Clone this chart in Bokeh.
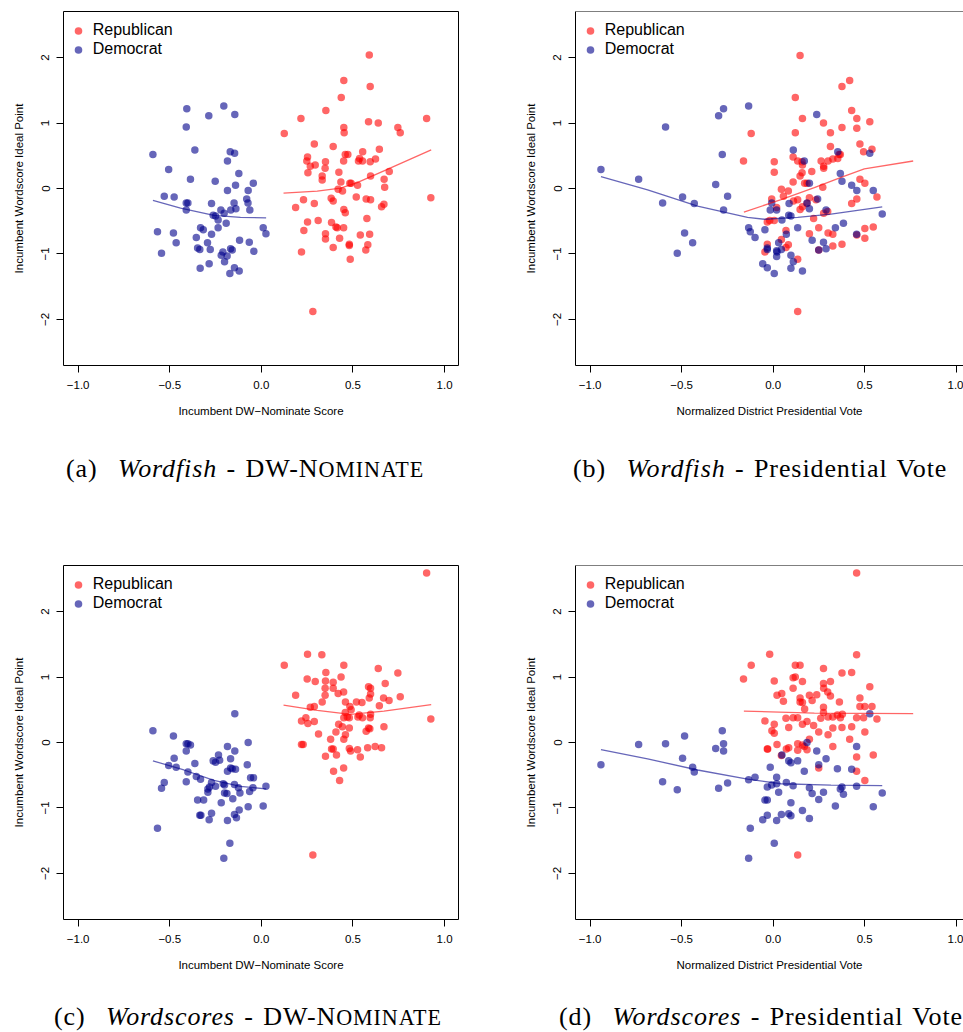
import math
from bokeh.plotting import figure
from bokeh.models import FixedTicker, Span, Div, Legend
from bokeh.layouts import column, row
from bokeh.embed import file_html
from bokeh.resources import INLINE

# ---------------- data ----------------
# Panel (a): Wordfish vs DW-Nominate
a_rep_x = [0.589, 0.450, 0.594, 0.436, 0.352, 0.216, 0.585, 0.638, 0.902, 0.450, 0.745, 0.758, 0.452, 0.125,
           0.289, 0.392, 0.644, 0.553, 0.458, 0.472, 0.252, 0.248, 0.350, 0.449, 0.536, 0.530, 0.552, 0.594,
           0.623, 0.294, 0.267, 0.348, 0.423, 0.254, 0.698, 0.332, 0.332, 0.596, 0.670, 0.434, 0.483, 0.490,
           0.525, 0.673, 0.419, 0.443, 0.518, 0.381, 0.392, 0.572, 0.596, 0.230, 0.289, 0.187, 0.669, 0.656,
           0.450, 0.458, 0.576, 0.252, 0.310, 0.383, 0.407, 0.414, 0.449, 0.232, 0.350, 0.540, 0.591, 0.350,
           0.427, 0.480, 0.480, 0.581, 0.392, 0.570, 0.219, 0.485, 0.281, 0.925]
a_rep_y = [2.04, 1.65, 1.56, 1.39, 1.19, 1.07, 1.02, 1.00, 1.07, 0.93, 0.93, 0.85, 0.85, 0.84,
           0.68, 0.64, 0.60, 0.56, 0.52, 0.52, 0.48, 0.42, 0.41, 0.42, 0.46, 0.42, 0.42, 0.41,
           0.45, 0.36, 0.34, 0.31, 0.25, 0.24, 0.26, 0.19, 0.13, 0.19, 0.14, 0.10, 0.08, 0.08,
           0.05, 0.02, -0.01, -0.04, -0.13, -0.15, -0.19, -0.16, -0.17, -0.17, -0.23, -0.29, -0.24, -0.28,
           -0.32, -0.37, -0.46, -0.51, -0.49, -0.52, -0.59, -0.60, -0.60, -0.64, -0.69, -0.71, -0.70, -0.77,
           -0.76, -0.85, -0.87, -0.86, -0.90, -0.94, -0.97, -1.08, -1.88, -0.14]
a_dem_x = [-0.407, -0.205, -0.287, -0.145, -0.410, -0.592, -0.363, -0.170, -0.146, -0.185, -0.506, -0.123,
           -0.387, -0.252, -0.044, -0.141, -0.185, -0.072, -0.530, -0.476, -0.080, -0.073, -0.410, -0.401,
           -0.272, -0.149, -0.410, -0.221, -0.167, -0.139, -0.063, -0.203, -0.263, -0.250, -0.236, -0.192,
           -0.236, -0.332, -0.317, -0.567, -0.480, 0.010, 0.025, -0.272, -0.465, -0.355, -0.294, -0.119,
           -0.066, -0.348, -0.336, -0.279, -0.168, -0.159, -0.210, -0.219, -0.187, -0.041, -0.545, -0.201,
           -0.285, -0.334, -0.147, -0.121, -0.172]
a_dem_y = [1.22, 1.26, 1.11, 1.13, 0.94, 0.52, 0.59, 0.56, 0.54, 0.42, 0.29, 0.23,
           0.14, 0.11, 0.08, 0.05, -0.03, -0.03, -0.12, -0.13, -0.16, -0.22, -0.22, -0.22,
           -0.23, -0.22, -0.33, -0.33, -0.33, -0.31, -0.33, -0.38, -0.41, -0.42, -0.48, -0.53,
           -0.60, -0.60, -0.63, -0.66, -0.68, -0.60, -0.69, -0.70, -0.83, -0.75, -0.83, -0.79,
           -0.82, -0.91, -0.93, -0.93, -0.92, -0.94, -0.97, -1.02, -1.03, -0.96, -0.99, -1.12,
           -1.15, -1.22, -1.21, -1.26, -1.30]
a_rep_fit_x = [0.121, 0.305, 0.432, 0.523, 0.669, 0.927]
a_rep_fit_y = [-0.07, -0.04, 0.005, 0.09, 0.27, 0.59]
a_dem_fit_x = [-0.592, -0.441, -0.259, -0.114, 0.026]
a_dem_fit_y = [-0.18, -0.30, -0.41, -0.44, -0.45]

# Panel (b): Wordfish vs presidential vote
b_rep_x = [0.147, 0.418, 0.376, 0.121, 0.429, 0.160, 0.457, 0.528, 0.275, 0.376, 0.457, 0.121, 0.313, -0.120,
           0.474, 0.313, 0.540, 0.494, 0.360, 0.367, 0.109, -0.162, 0.134, 0.158, 0.262, 0.300, 0.326, 0.353,
           0.006, 0.160, 0.276, 0.276, 0.006, 0.211, 0.158, 0.147, 0.474, 0.109, 0.172, 0.185, 0.501, 0.271,
           0.045, 0.083, 0.567, 0.056, -0.008, 0.134, 0.198, 0.234, 0.457, 0.111, 0.185, 0.429, 0.019, 0.147,
           0.160, 0.276, 0.298, 0.221, -0.032, -0.019, 0.006, 0.070, 0.249, 0.300, 0.198, 0.326, 0.501, 0.547,
           0.457, 0.045, 0.501, -0.032, 0.083, 0.376, 0.326, 0.070, 0.249, -0.045, 0.134, 0.134]
b_rep_y = [2.03, 1.65, 1.56, 1.39, 1.19, 1.07, 1.07, 1.02, 1.00, 0.93, 0.92, 0.85, 0.85, 0.84,
           0.68, 0.64, 0.60, 0.56, 0.52, 0.52, 0.48, 0.42, 0.42, 0.41, 0.42, 0.42, 0.45, 0.46,
           0.41, 0.36, 0.34, 0.31, 0.25, 0.26, 0.24, 0.19, 0.14, 0.10, 0.08, 0.08, 0.08, 0.02,
           -0.01, -0.04, -0.13, -0.12, -0.16, -0.17, -0.14, -0.17, -0.16, -0.19, -0.23, -0.23, -0.29, -0.32,
           -0.28, -0.38, -0.35, -0.46, -0.51, -0.49, -0.49, -0.64, -0.60, -0.68, -0.69, -0.70, -0.61, -0.59,
           -0.71, -0.78, -0.76, -0.85, -0.86, -0.85, -0.88, -0.90, -0.94, -0.97, -1.08, -1.88]
b_dem_x = [-0.941, -0.735, -0.604, -0.495, -0.431, -0.588, -0.298, -0.271, -0.134, -0.278, -0.314, -0.249,
           -0.271, -0.484, -0.440, -0.524, 0.238, 0.110, 0.170, 0.353, 0.528, 0.367, 0.376, 0.198,
           0.429, 0.457, 0.547, 0.596, 0.243, -0.008, 0.087, 0.185, 0.198, -0.016, 0.019, 0.289,
           0.085, 0.097, 0.048, 0.384, 0.134, -0.134, -0.125, -0.045, 0.340, 0.072, -0.099, 0.030,
           0.213, 0.275, 0.456, -0.032, -0.032, 0.045, 0.019, 0.021, 0.289, 0.249, 0.097, 0.019,
           0.110, -0.057, -0.032, 0.097, 0.160, 0.006]
b_dem_y = [0.29, 0.14, -0.22, -0.13, -0.23, 0.94, 1.11, 1.22, 1.26, 0.52, 0.06, -0.12,
           -0.33, -0.68, -0.83, -0.99, 1.13, 0.59, 0.42, 0.56, 0.54, 0.23, 0.11, 0.08,
           0.05, -0.03, -0.03, -0.39, -0.16, -0.22, -0.23, -0.22, -0.31, -0.33, -0.33, -0.33,
           -0.41, -0.42, -0.48, -0.53, -0.60, -0.60, -0.66, -0.63, -0.60, -0.70, -0.75, -0.83,
           -0.79, -0.82, -0.70, -0.91, -0.93, -0.93, -0.95, -0.97, -0.92, -0.94, -1.02, -1.04,
           -1.12, -1.15, -1.21, -1.22, -1.26, -1.30]
b_rep_fit_x = [-0.160, 0.043, 0.225, 0.371, 0.498, 0.765]
b_rep_fit_y = [-0.36, -0.17, 0.015, 0.17, 0.30, 0.42]
b_dem_fit_x = [-0.941, -0.686, -0.413, -0.140, -0.048, 0.134, 0.316, 0.596]
b_dem_fit_y = [0.18, -0.02, -0.27, -0.44, -0.47, -0.44, -0.39, -0.28]

# Panel (c): Wordscores vs DW-Nominate
c_rep_x = [0.902, 0.252, 0.330, 0.125, 0.450, 0.638, 0.352, 0.745, 0.435, 0.250, 0.350, 0.294, 0.392, 0.676,
           0.585, 0.596, 0.348, 0.392, 0.449, 0.419, 0.596, 0.187, 0.348, 0.758, 0.589, 0.667, 0.697, 0.459,
           0.332, 0.519, 0.549, 0.289, 0.267, 0.483, 0.644, 0.490, 0.458, 0.534, 0.450, 0.469, 0.480, 0.527,
           0.552, 0.596, 0.594, 0.243, 0.219, 0.254, 0.289, 0.925, 0.422, 0.442, 0.480, 0.585, 0.592, 0.669,
           0.572, 0.407, 0.312, 0.459, 0.450, 0.378, 0.219, 0.228, 0.621, 0.580, 0.656, 0.383, 0.392, 0.480,
           0.487, 0.525, 0.410, 0.350, 0.540, 0.449, 0.394, 0.427, 0.281]
c_rep_y = [2.59, 1.35, 1.34, 1.18, 1.18, 1.13, 1.07, 1.06, 1.00, 0.97, 0.94, 0.93, 0.92, 0.90,
           0.85, 0.83, 0.83, 0.83, 0.77, 0.75, 0.74, 0.72, 0.72, 0.70, 0.68, 0.68, 0.64, 0.62,
           0.62, 0.62, 0.61, 0.55, 0.54, 0.55, 0.56, 0.50, 0.46, 0.42, 0.38, 0.39, 0.38, 0.39,
           0.38, 0.43, 0.38, 0.38, 0.33, 0.29, 0.32, 0.36, 0.28, 0.24, 0.22, 0.22, 0.21, 0.24,
           0.17, 0.16, 0.13, 0.12, 0.05, 0.05, -0.03, -0.03, -0.06, -0.08, -0.08, -0.10, -0.10, -0.09,
           -0.13, -0.11, -0.19, -0.21, -0.22, -0.39, -0.44, -0.58, -1.72]
c_dem_x = [-0.145, -0.592, -0.480, -0.410, -0.401, -0.387, -0.072, -0.185, -0.410, -0.145, -0.234, -0.476,
           -0.168, -0.263, -0.250, -0.228, -0.363, -0.077, -0.506, -0.465, -0.168, -0.159, -0.141, -0.185,
           -0.401, -0.355, -0.332, -0.059, -0.043, -0.530, -0.410, -0.272, -0.208, -0.201, -0.147, -0.545,
           -0.283, -0.292, -0.250, -0.125, -0.117, -0.046, 0.025, -0.064, -0.201, -0.188, -0.292, -0.348,
           -0.315, -0.156, -0.219, -0.121, -0.072, 0.010, -0.336, -0.330, -0.272, -0.147, -0.136, -0.285,
           -0.185, -0.567, -0.172, -0.205]
c_dem_y = [0.44, 0.18, 0.10, -0.02, -0.02, -0.04, 0.00, -0.06, -0.13, -0.13, -0.19, -0.24,
           -0.25, -0.28, -0.30, -0.27, -0.32, -0.34, -0.35, -0.38, -0.39, -0.40, -0.41, -0.44,
           -0.45, -0.52, -0.56, -0.54, -0.54, -0.61, -0.60, -0.61, -0.63, -0.65, -0.64, -0.70,
           -0.68, -0.71, -0.67, -0.69, -0.77, -0.69, -0.67, -0.75, -0.77, -0.78, -0.76, -0.88,
           -0.88, -0.86, -0.92, -1.03, -0.98, -0.97, -1.11, -1.11, -1.08, -1.10, -1.15, -1.18,
           -1.19, -1.31, -1.54, -1.77]
c_rep_fit_x = [0.121, 0.305, 0.487, 0.669, 0.927]
c_rep_fit_y = [0.57, 0.49, 0.43, 0.48, 0.58]
c_dem_fit_x = [-0.592, -0.423, -0.259, -0.114, 0.026]
c_dem_fit_y = [-0.28, -0.42, -0.58, -0.67, -0.71]

# Panel (d): Wordscores vs presidential vote
d_rep_x = [0.456, -0.019, 0.456, -0.120, 0.121, 0.147, 0.275, 0.429, 0.376, 0.109, 0.121, -0.162, 0.006, 0.313,
           0.160, 0.275, 0.528, 0.109, 0.276, 0.298, 0.021, 0.047, 0.198, 0.238, 0.313, 0.474, 0.147, 0.056,
           0.147, 0.160, 0.213, 0.362, 0.474, 0.501, 0.540, 0.275, 0.172, 0.275, 0.378, 0.351, 0.300, 0.326,
           0.367, 0.070, 0.109, 0.134, 0.260, 0.456, 0.494, 0.567, -0.045, 0.160, 0.185, 0.006, 0.221, 0.085,
           0.326, 0.376, 0.429, -0.007, 0.006, 0.249, 0.300, 0.501, 0.198, 0.418, 0.021, 0.134, 0.160, 0.170,
           0.326, -0.032, -0.030, 0.072, 0.085, 0.134, 0.185, 0.045, 0.456, 0.547, 0.249, 0.456, 0.501, 0.134]
d_rep_y = [2.59, 1.35, 1.34, 1.18, 1.18, 1.18, 1.13, 1.07, 1.06, 0.99, 1.00, 0.97, 0.94, 0.93,
           0.93, 0.90, 0.85, 0.83, 0.83, 0.77, 0.72, 0.75, 0.72, 0.73, 0.71, 0.68, 0.68, 0.63,
           0.62, 0.61, 0.64, 0.62, 0.55, 0.55, 0.55, 0.54, 0.51, 0.46, 0.43, 0.42, 0.39, 0.39,
           0.38, 0.37, 0.38, 0.38, 0.37, 0.38, 0.38, 0.36, 0.33, 0.28, 0.32, 0.28, 0.26, 0.23,
           0.22, 0.23, 0.24, 0.18, 0.14, 0.16, 0.12, 0.16, 0.05, 0.05, -0.03, -0.02, -0.04, -0.06,
           -0.06, -0.10, -0.10, -0.10, -0.08, -0.12, -0.11, -0.20, -0.22, -0.19, -0.39, -0.44, -0.58, -1.72]
d_dem_x = [0.528, -0.278, -0.484, -0.735, -0.588, -0.271, 0.185, 0.456, -0.314, -0.271, 0.238, 0.048,
           -0.495, 0.085, 0.097, 0.134, 0.289, 0.249, -0.440, -0.016, -0.431, 0.170, 0.351, 0.429,
           -0.941, 0.019, -0.134, -0.099, -0.604, -0.249, 0.072, -0.008, 0.019, -0.032, 0.109, 0.456,
           -0.524, -0.298, 0.198, 0.367, 0.376, 0.030, 0.213, 0.275, 0.384, 0.596, 0.249, -0.045,
           -0.032, 0.097, 0.340, 0.547, 0.160, -0.032, 0.045, 0.085, 0.097, 0.198, -0.057, 0.019,
           -0.125, 0.006, -0.134]
d_dem_y = [0.44, 0.18, 0.10, -0.03, -0.02, -0.02, 0.00, -0.06, -0.09, -0.13, -0.13, -0.19,
           -0.24, -0.28, -0.31, -0.28, -0.25, -0.34, -0.38, -0.38, -0.45, -0.44, -0.40, -0.41,
           -0.34, -0.53, -0.57, -0.53, -0.60, -0.62, -0.61, -0.65, -0.63, -0.68, -0.66, -0.67,
           -0.72, -0.70, -0.69, -0.71, -0.68, -0.76, -0.78, -0.76, -0.79, -0.77, -0.87, -0.88,
           -0.88, -0.92, -0.97, -0.98, -1.04, -1.11, -1.10, -1.09, -1.12, -1.16, -1.18, -1.19,
           -1.31, -1.54, -1.77]
d_rep_fit_x = [-0.160, 0.225, 0.765]
d_rep_fit_y = [0.48, 0.45, 0.44]
d_dem_fit_x = [-0.941, -0.686, -0.413, -0.140, 0.043, 0.316, 0.596]
d_dem_fit_y = [-0.11, -0.25, -0.42, -0.56, -0.63, -0.65, -0.66]

x_ticks = [-1.0, -0.5, 0.0, 0.5, 1.0]
x_tick_labels = ["\u22121.0", "\u22120.5", "0.0", "0.5", "1.0"]
y_ticks = [-2, -1, 0, 1, 2]
y_tick_labels = ["\u22122", "\u22121", "0", "1", "2"]
party_names = ["Republican", "Democrat"]
x_titles = ["Incumbent DW\u2212Nominate Score", "Normalized District Presidential Vote"]
y_title = "Incumbent Wordscore Ideal Point"

REP = "#FF0000"
DEM = "#00008B"
FONT = "Liberation Sans"


def panel(rep_x, rep_y, dem_x, dem_y, rfx, rfy, dfx, dfy, xtitle, left_side, top_border, height):
    if left_side:
        w, mbl, mbr, xr = 481, 63, 23, (-1.08, 1.076)
    else:
        w, mbl, mbr, xr = 482, 94, 0, (-1.08, 1.04)
    p = figure(width=w, height=height, x_range=xr, y_range=(-2.704, 2.704),
               min_border_left=mbl, min_border_right=mbr, min_border_top=top_border,
               min_border_bottom=65, output_backend="svg", toolbar_location=None,
               background_fill_color="white", border_fill_color="white")
    p.grid.visible = False
    if left_side:
        p.outline_line_color = "#000000"
        p.outline_line_width = 1
    else:
        p.outline_line_color = None
        p.add_layout(Span(location=2.704, dimension="width", line_color="#000000", line_width=1))

    for ax in (p.xaxis[0], p.yaxis[0]):
        ax.major_tick_out = 7
        ax.major_tick_in = 0
        ax.minor_tick_line_color = None
        ax.major_tick_line_color = "#000000"
        ax.axis_line_color = None if left_side else "#000000"
        ax.major_label_text_font = FONT
        ax.major_label_text_font_size = "11.5px"
        ax.major_label_text_color = "#000000"
        ax.axis_label_text_font = FONT
        ax.axis_label_text_font_size = "11.5px"
        ax.axis_label_text_font_style = "normal"
        ax.axis_label_text_color = "#000000"

    p.xaxis.ticker = FixedTicker(ticks=x_ticks)
    p.xaxis.major_label_overrides = dict(zip(x_ticks, x_tick_labels))
    p.xaxis.major_label_standoff = 8
    p.xaxis.axis_label = xtitle
    p.xaxis.axis_label_standoff = 13

    p.yaxis.ticker = FixedTicker(ticks=y_ticks)
    p.yaxis.major_label_overrides = dict(zip(y_ticks, y_tick_labels))
    p.yaxis.major_label_orientation = "vertical"
    p.yaxis.major_label_standoff = 7
    p.yaxis.axis_label = y_title
    p.yaxis.axis_label_standoff = 14

    r1 = p.scatter(rep_x, rep_y, size=7.5, fill_color=REP, fill_alpha=0.6, line_color=None)
    r2 = p.scatter(dem_x, dem_y, size=7.5, fill_color=DEM, fill_alpha=0.6, line_color=None)
    p.line(rfx, rfy, line_color=REP, line_alpha=0.6, line_width=1.3)
    p.line(dfx, dfy, line_color=DEM, line_alpha=0.6, line_width=1.3)

    frame_h = height - top_border - 65
    leg = Legend(items=[(party_names[0], [r1]), (party_names[1], [r2])],
                 location=(4.7, float(frame_h) - 9.8 - 38.0), orientation="vertical",
                 border_line_color=None, background_fill_alpha=0,
                 glyph_width=20, glyph_height=19, label_height=19,
                 label_standoff=5, spacing=0, padding=0, margin=0,
                 label_text_font=FONT, label_text_font_size="16px",
                 label_text_color="#000000")
    p.add_layout(leg, "center")
    return p


fa = panel(a_rep_x, a_rep_y, a_dem_x, a_dem_y, a_rep_fit_x, a_rep_fit_y, a_dem_fit_x, a_dem_fit_y,
           x_titles[0], True, 11, 430)
fb = panel(b_rep_x, b_rep_y, b_dem_x, b_dem_y, b_rep_fit_x, b_rep_fit_y, b_dem_fit_x, b_dem_fit_y,
           x_titles[1], False, 11, 430)
fc = panel(c_rep_x, c_rep_y, c_dem_x, c_dem_y, c_rep_fit_x, c_rep_fit_y, c_dem_fit_x, c_dem_fit_y,
           x_titles[0], True, 15, 434)
fd = panel(d_rep_x, d_rep_y, d_dem_x, d_dem_y, d_rep_fit_x, d_rep_fit_y, d_dem_fit_x, d_dem_fit_y,
           x_titles[1], False, 15, 434)

CAP = ("position:absolute;white-space:nowrap;font-family:'Liberation Serif',serif;"
       "font-size:26px;line-height:30px;color:#000;letter-spacing:0.9px;word-spacing:2px;")
SC = "DW-N<span style='font-size:0.85em'>OMINATE</span>"


def cap(left, top, tag, method, rest):
    return (f"<span style=\"{CAP}left:{left}px;top:{top}px;\">"
            f"<span style='margin-right:11px'>({tag})</span> <i>{method}</i> - {rest}</span>")


top_html = ("<div style='position:relative;width:963px;height:120px;'>"
            + cap(66, 23.5, "a", "Wordfish", SC)
            + cap(573, 23.5, "b", "Wordfish", "Presidential Vote")
            + "</div>")
bot_html = ("<div style='position:relative;width:963px;height:48px;'>"
            + cap(54, 17.8, "c", "Wordscores", SC)
            + cap(559, 17.8, "d", "Wordscores", "Presidential Vote")
            + "</div>")
d1 = Div(text=top_html, width=963, height=120, margin=0)
d2 = Div(text=bot_html, width=963, height=48, margin=0)

layout = column(row(fa, fb, spacing=0), d1, row(fc, fd, spacing=0), d2, spacing=0)
open("out.html", "w").write(file_html(layout, INLINE))
